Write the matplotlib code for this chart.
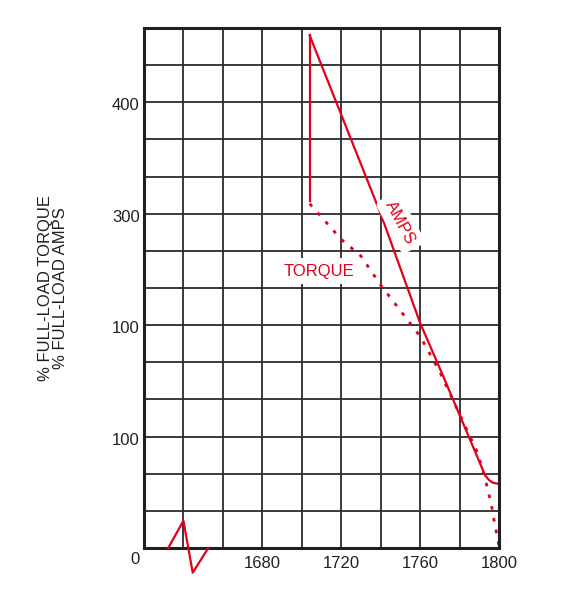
import matplotlib
matplotlib.use('Agg')
import matplotlib.pyplot as plt
from matplotlib.transforms import ScaledTranslation

plt.rcParams['font.family'] = ['Liberation Sans', 'DejaVu Sans']

red = '#e2001a'
ink = '#231f20'

# speed (rpm) vs percent of full load
amps_rpm = [1704, 1740, 1760, 1772, 1793, 1795, 1797, 1800]
amps_pct = [460, 300, 202, 153, 65, 61, 58.5, 57.5]

drop_rpm = [1704, 1704]
drop_pct = [460, 311]

torque_rpm = [1704, 1720, 1730, 1740, 1750, 1760, 1770, 1780, 1789, 1793, 1796, 1798, 1800]
torque_pct = [309, 277, 262, 236, 213, 190, 158, 120, 86, 62, 40, 20, 2]

# axis break mark
break_rpm = [1632.3, 1640, 1644.7, 1652.6]
break_pct = [0, 24.5, -22.2, 0]

x_ticks = [1620, 1640, 1660, 1680, 1700, 1720, 1740, 1760, 1780, 1800]
x_labels = ['', '', '', '1680', '', '1720', '', '1760', '', '1800']
y_ticks = [i * 100 / 3 for i in range(15)]
y_labels = ['0', '', '', '100', '', '', '100', '', '', '300', '', '', '400', '', '']

fig = plt.figure(figsize=(5.62, 6.0), dpi=100)
ax = fig.add_axes([144 / 562, 1 - 548 / 600, 355 / 562, 520 / 600])

ax.set_xlim(1620, 1800)
ax.set_ylim(0, 1400 / 3)
ax.set_xticks(x_ticks)
ax.set_xticklabels(x_labels)
ax.set_yticks(y_ticks)
ax.set_yticklabels(y_labels)
ax.grid(True, color='#2b2b2b', lw=1.3)
ax.set_axisbelow(True)
ax.tick_params(axis='x', length=0, pad=6, labelsize=12, labelcolor=ink)
ax.tick_params(axis='y', length=0, pad=3, labelsize=12, labelcolor=ink)
for s in ax.spines.values():
    s.set_linewidth(2.2)
    s.set_color(ink)

# nudge the zero label down like the original
zero = ax.get_yticklabels()[0]
zero.set_transform(zero.get_transform() + ScaledTranslation(0, -8 / 100, fig.dpi_scale_trans))
for lab in ax.get_yticklabels():
    lab.set_transform(lab.get_transform() + ScaledTranslation(0, -2 / 100, fig.dpi_scale_trans))

ax.plot(amps_rpm, amps_pct, color=red, lw=1.6, solid_joinstyle='round')
ax.plot(drop_rpm, drop_pct, color=red, lw=1.6)
ax.plot(torque_rpm, torque_pct, color=red, lw=2.0, dashes=(1.3, 3.0))
ax.plot(break_rpm, break_pct, color=red, lw=1.6, clip_on=False, zorder=5)

ax.text(1708.5, 248.5, 'TORQUE', color=red, fontsize=12, ha='center', va='center',
        bbox=dict(boxstyle='square,pad=0.35', fc='white', ec='none'))
ax.text(1750, 292, 'AMPS', color=red, fontsize=12, ha='center', va='center',
        rotation=-62, rotation_mode='anchor',
        bbox=dict(boxstyle='round,pad=0.35', fc='white', ec='none'))

ax.set_ylabel('% FULL-LOAD TORQUE\n% FULL-LOAD AMPS', fontsize=12, color=ink,
              labelpad=32, linespacing=1.0, ha='center')

fig.savefig('out.png', dpi=100)
